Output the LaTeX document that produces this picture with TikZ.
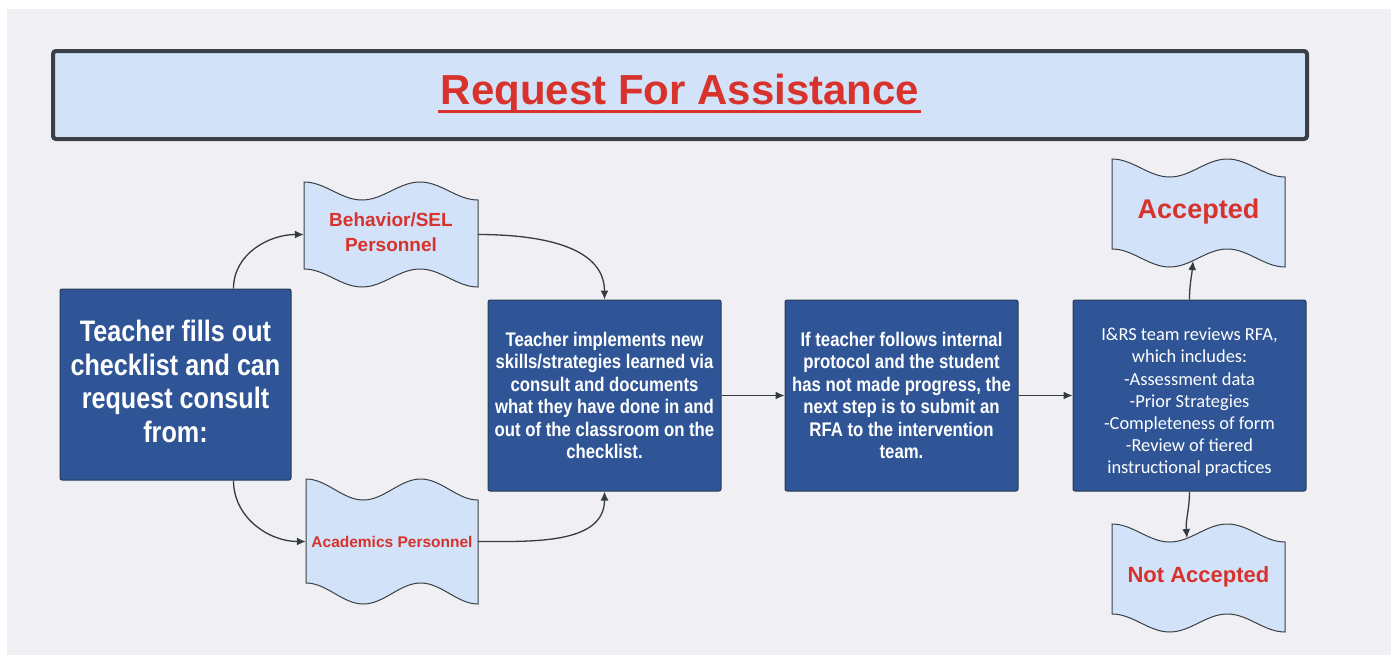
\documentclass[tikz,border=0pt]{standalone}
\usepackage{fontspec}
\setmainfont{Liberation Sans}
\newfontfamily\narrowfont[FakeStretch=0.85]{Liberation Sans}
\newfontfamily\calfont{Carlito}
\usetikzlibrary{arrows.meta,calc}
\definecolor{bggray}{HTML}{F0F0F4}
\definecolor{lightblue}{HTML}{D2E2F8}
\definecolor{darkblue}{HTML}{2F5597}
\definecolor{boxedge}{HTML}{2A3B55}
\definecolor{titleedge}{HTML}{3A3F45}
\definecolor{redtext}{HTML}{D7322B}
\definecolor{linkcol}{HTML}{353B42}
\tikzset{
  darkbox/.style={rectangle, rounded corners=2pt, fill=darkblue, draw=boxedge,
    line width=1pt, text=white, align=center, inner sep=0pt,
    minimum width=233pt, minimum height=191pt},
  tapeoutline/.style={fill=lightblue, draw=titleedge, line width=1pt},
  tapelabel/.style={rectangle, text=redtext, align=center, inner sep=0pt},
  link/.style={draw=linkcol, line width=1.3pt, -{Latex[length=9pt,width=8pt]}},
}
% #1 x0, #2 y top-left, #3 x1, #4 y bottom-left, #5 amplitude
\newcommand\tapepath[5]{%
  \path[tapeoutline]
    (#1,#2) cos ({#1+(#3-#1)/6},{#2+#5/2}) sin ({#1+(#3-#1)/3},{#2+#5})
    cos ({#1+(#3-#1)/2},{#2+#5/2}) sin ({#1+(#3-#1)*2/3},#2)
    cos ({#1+(#3-#1)*5/6},{#2+#5/2}) sin (#3,{#2+#5})
    -- (#3,{#4+#5})
    cos ({#1+(#3-#1)*5/6},{#4+#5/2}) sin ({#1+(#3-#1)*2/3},#4)
    cos ({#1+(#3-#1)/2},{#4+#5/2}) sin ({#1+(#3-#1)/3},{#4+#5})
    cos ({#1+(#3-#1)/6},{#4+#5/2}) sin (#1,#4)
    -- cycle;
}
\begin{document}
\begin{tikzpicture}[x=1pt,y=-1pt]
  \useasboundingbox (0,0) rectangle (1393,657);
  \fill[white] (0,0) rectangle (1393,657);
  \fill[bggray] (7,9) rectangle (1391,655);

  % title
  \node[rectangle, rounded corners=3pt, fill=lightblue, draw=titleedge, line width=4pt,
        minimum width=1254pt, minimum height=88pt] (titlebox) at (680,95) {};
  \node[anchor=base, inner sep=0pt, text=redtext,
        font=\fontsize{42}{48}\selectfont\bfseries] (title) at (680,104) {Request For Assistance};
  \draw[redtext, line width=3pt] ([xshift=-3pt,yshift=-7.5pt]title.base west) -- ([xshift=2pt,yshift=-7.5pt]title.base east);

  % dark boxes
  \node[darkbox, minimum width=231pt] (teacher) at (175.5,384.5) {};
  \node[text=white, align=center, inner sep=0pt,
        font=\narrowfont\bfseries\fontsize{29.6}{33.5}\selectfont]
    (teachertext) at (175.5,381.5) {Teacher fills out\\checklist and can\\request consult\\from:};
  \node[darkbox, font=\narrowfont\bfseries\fontsize{19.7}{22.5}\selectfont]
    (impl) at (604.5,395.5) {Teacher implements new\\skills/strategies learned via\\consult and documents\\what they have done in and\\out of the classroom on the\\checklist.};
  \node[darkbox, font=\narrowfont\bfseries\fontsize{19.7}{22.5}\selectfont]
    (ifb) at (901.5,395.5) {If teacher follows internal\\protocol and the student\\has not made progress, the\\next step is to submit an\\RFA to the intervention\\team.};
  \node[darkbox] (irs) at (1189.5,395.5) {};
  \node[text=white, align=center, inner sep=0pt, font=\calfont\fontsize{18.4}{22.2}\selectfont]
    (irstext) at (1189.5,402.5) {I\&RS team reviews RFA,\\which includes:\\-Assessment data\\-Prior Strategies\\-Completeness of form\\-Review of tiered\\instructional practices};

  % tape shapes
  \tapepath{304}{182}{478}{269}{18}
  \node[tapelabel, minimum width=174pt, minimum height=105pt,
        font=\bfseries\fontsize{19}{25}\selectfont] (beh) at (391,234.5) {};
  \node[tapelabel, font=\bfseries\fontsize{19}{25}\selectfont] (behtext) at (391,232.5) {Behavior/SEL\\Personnel};
  \tapepath{306}{479}{478}{583}{21}
  \node[tapelabel, minimum width=172pt, minimum height=125pt,
        font=\bfseries\fontsize{15.5}{19}\selectfont] (acad) at (392,541.5) {Academics Personnel};
  \tapepath{1112}{159}{1285}{249}{18}
  \node[tapelabel, minimum width=173pt, minimum height=108pt,
        font=\bfseries\fontsize{27}{32}\selectfont] (acc) at (1198.5,212) {Accepted};
  \tapepath{1112}{524}{1285}{614}{18}
  \node[tapelabel, minimum width=173pt, minimum height=108pt,
        font=\bfseries\fontsize{22}{26}\selectfont] (nacc) at (1198.5,577) {Not Accepted};

  % connector end points
  \coordinate (tchtop) at ($(teacher.north west)!0.75!(teacher.north east)$);
  \coordinate (tchbot) at ($(teacher.south west)!0.75!(teacher.south east)$);
  \coordinate (accin) at (1193,261);
  \coordinate (naccin) at (1187,538);

  % connectors
  \draw[link] (tchtop) to[out=90,in=180] (beh.west);
  \draw[link] (beh.east) to[out=0,in=90] (impl.north);
  \draw[link] (tchbot) to[out=-90,in=180] (acad.west);
  \draw[link] (acad.east) to[out=0,in=-90] (impl.south);
  \draw[link] (impl) -- (ifb);
  \draw[link] (ifb) -- (irs);
  \draw[link] (irs.north) to[out=90,in=-95] (accin);
  \draw[link] (irs.south) to[out=-90,in=95] (naccin);
\end{tikzpicture}
\end{document}
